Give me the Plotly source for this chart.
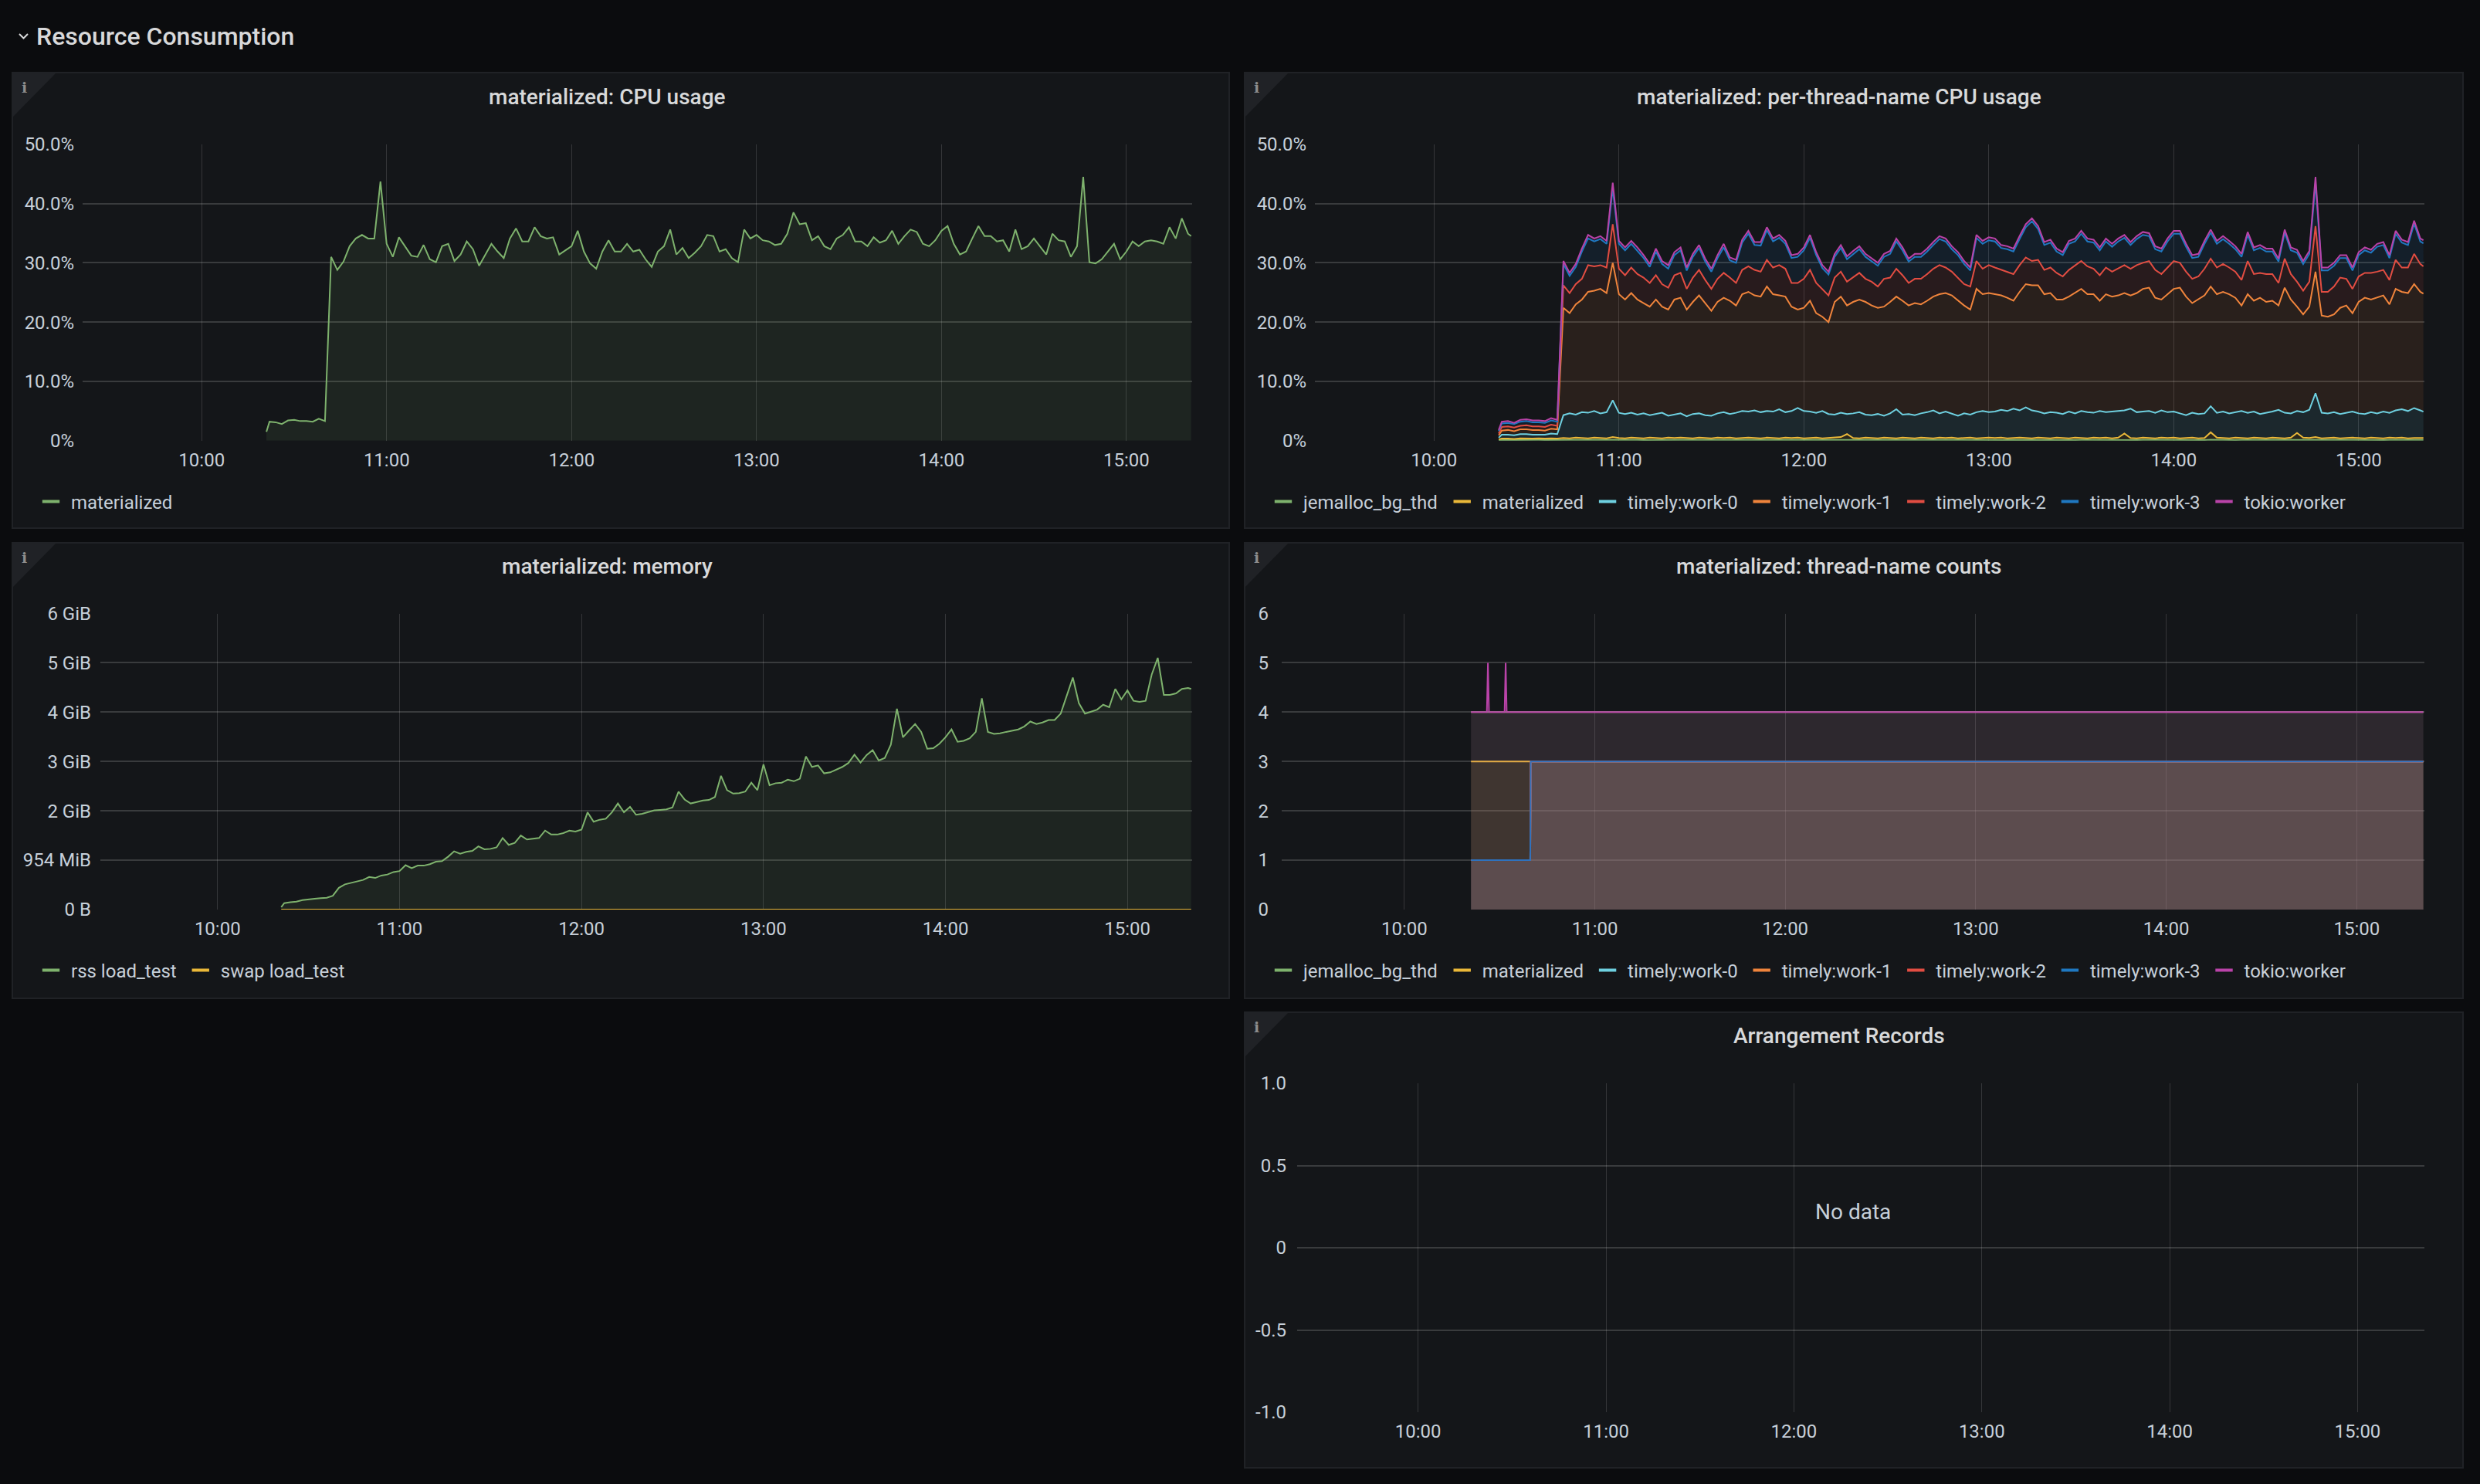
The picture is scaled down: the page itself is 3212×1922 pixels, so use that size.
import pandas as pd
import plotly.graph_objects as go

W, H = 3212, 1922
DAY = "2021-06-01 "

# ---------------- sample times (2-minute resolution) ----------------
sample_times = ([DAY + "10:21:00"]
                + [t.strftime("%Y-%m-%d %H:%M:%S")
                   for t in pd.date_range(DAY + "10:22", DAY + "15:20", freq="2min")]
                + [DAY + "15:21:00"])

# ---------------- panel 1: materialized CPU usage (%) ----------------
cpu_total = [1.5,
    3.2, 3.1, 2.8, 3.4, 3.5, 3.3, 3.3, 3.2, 3.7, 3.3,
    31.0, 28.8, 30.2, 32.8, 34.1, 34.7, 34.1, 34.1, 43.7, 33.2,
    31.0, 34.3, 32.8, 31.2, 31.0, 33.0, 30.6, 30.1, 32.8, 33.2,
    30.3, 31.4, 33.6, 32.3, 29.5, 31.4, 33.2, 31.9, 30.8, 34.1,
    35.8, 33.6, 33.6, 36.0, 34.5, 34.1, 34.3, 31.4, 32.1, 32.8,
    35.4, 31.9, 29.9, 29.0, 31.9, 33.8, 31.9, 31.9, 33.2, 31.9,
    32.2, 30.6, 29.3, 31.9, 32.8, 35.6, 31.4, 32.5, 30.8, 31.7,
    32.8, 34.7, 34.5, 31.9, 32.3, 30.8, 30.1, 35.6, 34.1, 34.7,
    33.8, 33.6, 33.0, 33.2, 34.9, 38.5, 36.5, 36.7, 33.8, 34.5,
    32.8, 32.3, 34.1, 34.7, 36.0, 33.6, 33.6, 32.8, 34.3, 33.4,
    33.8, 35.4, 33.2, 34.5, 35.6, 35.2, 33.2, 32.8, 33.8, 35.4,
    36.2, 33.2, 31.4, 31.9, 34.1, 36.2, 34.5, 34.5, 33.6, 33.8,
    31.9, 35.6, 32.3, 32.8, 34.1, 32.8, 31.4, 34.9, 33.8, 33.6,
    31.0, 32.8, 44.5, 30.1, 29.9, 30.6, 31.9, 33.2, 30.6, 31.9,
    33.6, 32.8, 33.6, 33.8, 33.6, 33.2, 36.0, 34.1, 37.5, 34.9,
    34.5]

# ---------------- panel 2: per-thread CPU (%), cumulative stacked levels ----------------
thread_names = ["jemalloc_bg_thd", "materialized", "timely:work-0", "timely:work-1",
                "timely:work-2", "timely:work-3", "tokio:worker"]

stack_jemalloc = [0.05,
    0.10, 0.11, 0.10, 0.12, 0.11, 0.10, 0.11, 0.10, 0.12, 0.11,
    0.12, 0.10, 0.13, 0.11, 0.12, 0.14, 0.11, 0.10, 0.15, 0.12,
    0.11, 0.13, 0.12, 0.10, 0.12, 0.11, 0.13, 0.12, 0.10, 0.12,
    0.13, 0.11, 0.12, 0.10, 0.12, 0.13, 0.11, 0.12, 0.10, 0.12,
    0.11, 0.13, 0.12, 0.10, 0.12, 0.11, 0.13, 0.12, 0.11, 0.10,
    0.12, 0.11, 0.13, 0.12, 0.10, 0.14, 0.12, 0.11, 0.12, 0.10,
    0.12, 0.11, 0.13, 0.12, 0.10, 0.12, 0.11, 0.13, 0.12, 0.11,
    0.10, 0.12, 0.11, 0.13, 0.12, 0.10, 0.12, 0.11, 0.13, 0.12,
    0.11, 0.12, 0.10, 0.13, 0.12, 0.11, 0.12, 0.10, 0.12, 0.11,
    0.13, 0.12, 0.11, 0.10, 0.12, 0.11, 0.13, 0.12, 0.10, 0.12,
    0.11, 0.14, 0.12, 0.10, 0.12, 0.11, 0.13, 0.12, 0.11, 0.10,
    0.12, 0.11, 0.13, 0.12, 0.10, 0.15, 0.12, 0.11, 0.12, 0.10,
    0.12, 0.11, 0.13, 0.12, 0.10, 0.12, 0.11, 0.13, 0.12, 0.14,
    0.11, 0.12, 0.14, 0.13, 0.12, 0.11, 0.12, 0.10, 0.12, 0.11,
    0.13, 0.12, 0.11, 0.10, 0.12, 0.11, 0.13, 0.12, 0.11, 0.12,
    0.12]

stack_materialized = [0.20,
    0.35, 0.35, 0.30, 0.40, 0.35, 0.35, 0.40, 0.35, 0.40, 0.35,
    0.45, 0.40, 0.50, 0.45, 0.40, 0.50, 0.45, 0.40, 0.60, 0.45,
    0.40, 0.50, 0.45, 0.40, 0.50, 0.45, 0.40, 0.50, 0.45, 0.50,
    0.45, 0.40, 0.50, 0.45, 0.40, 0.50, 0.45, 0.50, 0.40, 0.45,
    0.50, 0.45, 0.40, 0.50, 0.45, 0.40, 0.50, 0.45, 0.50, 0.40,
    0.45, 0.50, 0.40, 0.45, 0.50, 0.60, 1.10, 0.45, 0.40, 0.50,
    0.45, 0.40, 0.50, 0.45, 0.40, 0.50, 0.45, 0.40, 0.50, 0.45,
    0.40, 0.50, 0.45, 0.50, 0.40, 0.45, 0.50, 0.40, 0.45, 0.50,
    0.45, 0.50, 0.40, 0.45, 0.50, 0.45, 0.40, 0.50, 0.45, 0.40,
    0.50, 0.45, 0.40, 0.50, 0.45, 0.40, 0.50, 0.45, 0.50, 0.40,
    0.50, 1.20, 0.45, 0.40, 0.50, 0.45, 0.40, 0.50, 0.45, 0.50,
    0.40, 0.45, 0.50, 0.40, 0.45, 1.40, 0.50, 0.45, 0.40, 0.50,
    0.45, 0.40, 0.50, 0.45, 0.40, 0.50, 0.45, 0.40, 0.50, 1.30,
    0.50, 0.45, 0.60, 0.40, 0.45, 0.50, 0.40, 0.45, 0.50, 0.45,
    0.40, 0.50, 0.45, 0.40, 0.50, 0.45, 0.50, 0.40, 0.45, 0.50,
    0.45]

stack_work0 = [0.5,
    1.0, 1.0, 0.9, 1.1, 1.1, 1.0, 1.0, 1.0, 1.2, 1.1,
    4.3, 4.6, 4.4, 4.8, 4.7, 5.0, 4.6, 4.8, 6.8, 4.7,
    4.5, 4.7, 4.4, 4.6, 4.3, 4.5, 4.7, 4.2, 4.4, 4.6,
    4.1, 4.5, 4.6, 4.3, 4.2, 4.6, 4.8, 4.5, 4.7, 5.0,
    4.9, 5.1, 4.8, 5.0, 4.9, 5.3, 4.8, 5.0, 5.5, 5.0,
    4.9, 4.7, 5.0, 4.5, 4.4, 4.7, 4.5, 4.6, 4.8, 4.4,
    4.3, 4.5, 4.2, 4.6, 5.3, 4.4, 4.5, 4.3, 4.6, 4.8,
    5.1, 4.6, 4.9, 4.5, 4.2, 4.6, 4.4, 4.8, 5.0, 4.8,
    4.9, 5.2, 5.0, 5.4, 5.1, 5.6, 5.1, 4.9, 4.6, 4.8,
    4.7, 4.5, 4.9, 4.6, 5.0, 4.8, 4.7, 5.0, 4.8, 4.9,
    5.0, 5.1, 5.4, 4.8, 4.9, 5.0, 4.7, 5.1, 4.8, 4.9,
    4.6, 4.3, 4.7, 4.5, 4.6, 5.8, 4.7, 4.9, 4.6, 4.8,
    5.0, 4.7, 4.9, 4.5, 4.7, 4.9, 5.2, 4.7, 4.6, 5.0,
    4.8, 5.2, 8.0, 4.7, 4.6, 4.8, 4.5, 4.7, 4.9, 4.6,
    4.5, 4.8, 4.6, 4.9, 4.7, 5.1, 5.3, 5.0, 5.5, 5.1,
    4.9]

stack_work1 = [0.9,
    1.7, 1.8, 1.6, 1.9, 1.9, 1.8, 1.8, 1.7, 2.0, 1.9,
    22.4, 21.5, 23.0, 23.8, 25.1, 25.3, 25.6, 24.9, 30.0, 24.7,
    23.8, 24.9, 23.8, 23.2, 22.6, 23.8, 22.6, 22.1, 23.8, 24.1,
    22.1, 23.4, 24.5, 23.2, 21.9, 23.4, 24.1, 23.6, 22.8, 24.7,
    25.1, 24.5, 24.3, 26.0, 24.7, 24.5, 24.3, 22.6, 22.1, 22.4,
    23.6, 21.5, 20.9, 20.0, 23.4, 24.3, 22.8, 23.4, 23.8, 23.4,
    22.8, 22.4, 22.6, 23.4, 24.3, 23.6, 22.8, 23.2, 23.0, 23.6,
    24.3, 24.7, 24.9, 24.5, 23.6, 22.8, 22.1, 25.6, 24.7, 24.9,
    24.7, 24.5, 24.1, 23.6, 25.1, 26.4, 26.2, 26.2, 24.7, 24.9,
    23.8, 23.8, 24.3, 24.9, 25.6, 24.7, 24.7, 23.6, 24.7, 24.3,
    24.5, 24.9, 24.5, 24.9, 25.6, 25.8, 24.1, 23.8, 24.7, 25.6,
    25.8, 24.3, 23.2, 23.8, 24.5, 26.0, 24.7, 25.1, 24.7, 24.1,
    22.8, 24.7, 23.6, 24.1, 23.4, 23.6, 22.8, 25.8, 23.8, 22.6,
    21.3, 22.6, 28.5, 21.1, 20.9, 21.3, 22.4, 22.8, 21.5, 23.4,
    24.1, 23.8, 24.1, 24.5, 23.0, 25.6, 25.1, 24.9, 26.4, 25.1,
    24.8]

stack_work2 = [1.2,
    2.3, 2.4, 2.2, 2.5, 2.6, 2.4, 2.4, 2.3, 2.7, 2.5,
    26.2, 24.9, 26.4, 27.3, 29.6, 29.4, 29.6, 29.2, 36.5, 29.0,
    27.9, 29.2, 28.1, 27.5, 26.6, 27.9, 26.4, 25.8, 27.9, 28.3,
    25.6, 27.5, 28.8, 27.1, 25.6, 27.3, 28.3, 27.5, 26.6, 28.8,
    29.4, 28.8, 28.5, 30.5, 29.2, 29.6, 29.0, 26.6, 26.6, 27.3,
    28.8, 26.6, 25.6, 24.5, 27.5, 28.5, 26.8, 27.5, 28.3, 27.3,
    26.8, 26.0, 27.3, 27.5, 29.0, 27.9, 26.6, 27.3, 27.3, 28.1,
    29.0, 29.6, 29.2, 28.5, 27.5, 26.4, 26.0, 30.3, 29.0, 29.6,
    29.2, 28.8, 28.5, 28.1, 29.6, 30.9, 30.3, 30.5, 28.8, 29.2,
    28.3, 27.7, 28.8, 29.6, 30.3, 29.4, 29.0, 27.9, 29.2, 28.5,
    29.0, 29.6, 29.0, 29.6, 30.0, 30.3, 28.8, 28.1, 29.2, 30.3,
    30.0, 28.5, 27.3, 27.7, 29.0, 30.7, 29.2, 29.8, 29.2, 28.5,
    27.1, 30.3, 28.1, 28.3, 28.1, 28.1, 26.6, 30.7, 28.1, 26.8,
    25.3, 26.8, 36.2, 25.1, 25.1, 26.0, 27.5, 27.3, 25.6, 27.7,
    28.3, 28.3, 28.5, 28.8, 27.1, 30.5, 29.2, 29.2, 31.5, 29.8,
    29.4]

stack_work3 = [1.6,
    2.9, 3.0, 2.8, 3.2, 3.3, 3.1, 3.1, 3.0, 3.4, 3.2,
    29.8, 27.8, 29.3, 31.9, 34.1, 33.6, 34.0, 33.2, 42.5, 33.2,
    32.1, 33.2, 32.0, 30.8, 29.3, 31.9, 29.8, 29.0, 31.3, 32.1,
    28.7, 31.0, 32.5, 30.2, 28.5, 30.8, 32.6, 30.4, 30.0, 33.4,
    34.9, 33.0, 32.9, 35.5, 33.6, 34.2, 33.2, 30.8, 31.0, 32.1,
    34.2, 31.3, 29.1, 28.0, 31.0, 32.5, 30.6, 31.5, 32.3, 31.0,
    30.2, 29.5, 31.0, 31.5, 33.6, 32.1, 30.2, 31.0, 31.0, 31.9,
    33.0, 34.0, 33.6, 32.3, 31.3, 29.8, 28.7, 34.2, 33.2, 33.8,
    33.6, 32.5, 32.3, 31.9, 34.0, 36.0, 37.0, 35.7, 33.0, 33.4,
    31.9, 31.3, 33.2, 33.6, 34.9, 33.6, 33.4, 32.1, 33.6, 32.7,
    33.6, 34.2, 33.0, 34.0, 34.7, 34.5, 32.3, 31.9, 33.6, 34.9,
    34.9, 32.7, 30.8, 31.0, 33.2, 35.1, 33.2, 34.0, 33.2, 32.3,
    31.0, 34.7, 32.1, 32.5, 31.9, 31.9, 30.2, 35.1, 32.1, 31.7,
    29.8, 31.5, 43.5, 28.7, 28.7, 29.5, 30.8, 30.8, 28.7, 31.3,
    32.1, 31.7, 32.7, 33.0, 30.8, 34.9, 33.4, 33.0, 36.6, 33.6,
    33.3]

stack_tokio = [1.8,
    3.2, 3.3, 3.0, 3.5, 3.6, 3.4, 3.4, 3.3, 3.8, 3.5,
    30.3, 28.3, 29.8, 32.4, 34.7, 34.1, 34.5, 33.7, 43.5, 33.7,
    32.6, 33.7, 32.6, 31.3, 29.8, 32.4, 30.3, 29.6, 31.8, 32.6,
    29.2, 31.5, 33.0, 30.7, 29.0, 31.3, 33.2, 30.9, 30.5, 33.9,
    35.4, 33.5, 33.5, 36.0, 34.1, 34.7, 33.7, 31.3, 31.5, 32.6,
    34.7, 31.8, 29.6, 28.5, 31.5, 33.0, 31.1, 32.0, 32.8, 31.5,
    30.7, 30.0, 31.5, 32.0, 34.1, 32.6, 30.7, 31.5, 31.5, 32.4,
    33.5, 34.5, 34.1, 32.8, 31.8, 30.3, 29.2, 34.7, 33.7, 34.3,
    34.1, 33.0, 32.8, 32.4, 34.5, 36.5, 37.5, 36.2, 33.5, 33.9,
    32.4, 31.8, 33.7, 34.1, 35.4, 34.1, 33.9, 32.6, 34.1, 33.2,
    34.1, 34.7, 33.5, 34.5, 35.2, 35.0, 32.8, 32.4, 34.1, 35.4,
    35.4, 33.2, 31.3, 31.5, 33.7, 35.6, 33.7, 34.5, 33.7, 32.8,
    31.5, 35.2, 32.6, 33.0, 32.4, 32.4, 30.7, 35.6, 32.6, 32.2,
    30.3, 32.0, 44.5, 29.2, 29.2, 30.0, 31.3, 31.3, 29.2, 31.8,
    32.6, 32.2, 33.2, 33.5, 31.3, 35.4, 33.9, 33.5, 37.1, 34.1,
    33.8]

# ---------------- panel 3: memory (GB, 1e9 bytes) ----------------
rss_gb = [0.05,
    0.13, 0.15, 0.16, 0.19, 0.21, 0.22, 0.23, 0.24, 0.28, 0.44,
    0.51, 0.54, 0.57, 0.60, 0.66, 0.64, 0.69, 0.71, 0.76, 0.78,
    0.90, 0.84, 0.89, 0.89, 0.92, 0.97, 0.98, 1.07, 1.18, 1.13,
    1.17, 1.19, 1.28, 1.22, 1.23, 1.26, 1.45, 1.31, 1.35, 1.50,
    1.42, 1.43, 1.45, 1.60, 1.52, 1.52, 1.55, 1.60, 1.58, 1.62,
    1.97, 1.78, 1.82, 1.84, 1.97, 2.15, 1.97, 2.08, 1.92, 1.94,
    1.98, 2.01, 2.02, 2.03, 2.07, 2.39, 2.23, 2.15, 2.18, 2.21,
    2.22, 2.28, 2.71, 2.42, 2.35, 2.36, 2.39, 2.57, 2.42, 2.94,
    2.52, 2.56, 2.57, 2.63, 2.60, 2.65, 3.10, 2.89, 2.92, 2.76,
    2.78, 2.84, 2.89, 2.97, 3.14, 2.98, 3.13, 3.23, 3.02, 3.07,
    3.34, 4.07, 3.49, 3.63, 3.76, 3.60, 3.26, 3.27, 3.36, 3.49,
    3.65, 3.40, 3.42, 3.47, 3.60, 4.28, 3.60, 3.56, 3.57, 3.60,
    3.63, 3.65, 3.71, 3.81, 3.76, 3.79, 3.84, 3.84, 3.97, 4.34,
    4.70, 4.18, 3.97, 4.01, 4.05, 4.15, 4.10, 4.47, 4.26, 4.44,
    4.23, 4.21, 4.23, 4.76, 5.10, 4.35, 4.35, 4.38, 4.47, 4.49,
    4.47]
swap_gb = [0.0] * len(sample_times)
mem_tickvals = [0, 1, 2, 3, 4, 5, 6]
mem_ticktext = ["0 B", "954 MiB", "2 GiB", "3 GiB", "4 GiB", "5 GiB", "6 GiB"]

# ---------------- panel 4: thread-name counts (step series) ----------------
cnt_full_t = [DAY + "10:21:00", DAY + "15:21:00"]
cnt_jemalloc = [4, 4]
cnt_materialized = [3, 3]
cnt_timely_t = [DAY + "10:21:00", DAY + "10:39:40", DAY + "10:39:50", DAY + "15:21:00"]
cnt_timely = [1, 1, 3, 3]
cnt_tokio_t = [DAY + "10:21:00", DAY + "10:26:00", DAY + "10:26:20", DAY + "10:26:40",
               DAY + "10:31:35", DAY + "10:31:55", DAY + "10:32:15", DAY + "15:21:00"]
cnt_tokio = [4, 4, 5, 4, 4, 5, 4, 4]

pct_tickvals = [0, 10, 20, 30, 40, 50]
pct_ticktext = ["0%", "10.0%", "20.0%", "30.0%", "40.0%", "50.0%"]
arr_tickvals = [-1, -0.5, 0, 0.5, 1]
arr_ticktext = ["-1.0", "-0.5", "0", "0.5", "1.0"]

for arr in [cpu_total, stack_jemalloc, stack_materialized, stack_work0, stack_work1,
            stack_work2, stack_work3, stack_tokio, rss_gb]:
    assert len(arr) == len(sample_times), len(arr)

# ---------------- styling ----------------
COLORS = ["#7EB26D", "#EAB839", "#6ED0E0", "#EF843C", "#E24D42", "#1F78C1", "#BA43A9"]
PAGE_BG = "#0b0c0e"
PANEL_BG = "#141619"
PANEL_BORDER = "#202226"
TICK = "#c7d0d9"
TITLE = "#d8d9da"
HGRID = "rgba(255,255,255,0.16)"
VGRID = "rgba(255,255,255,0.14)"
FONT = "Roboto"


def rgba(hexc, a):
    h = hexc.lstrip("#")
    return "rgba(%d,%d,%d,%s)" % (int(h[0:2], 16), int(h[2:4], 16), int(h[4:6], 16), a)


def px(x):
    return x / W


def py(y):
    return 1 - y / H


fig = go.Figure()

# panel 1
fig.add_trace(go.Scatter(x=sample_times, y=cpu_total, mode="lines", name="materialized",
                         line=dict(color=COLORS[0], width=2), fill="tozeroy",
                         fillcolor=rgba(COLORS[0], 0.1), xaxis="x", yaxis="y",
                         showlegend=False, legendgroup="p1_0"))

# panel 2
stacks = [stack_jemalloc, stack_materialized, stack_work0, stack_work1,
          stack_work2, stack_work3, stack_tokio]
for i, (nm, arr) in enumerate(zip(thread_names, stacks)):
    fig.add_trace(go.Scatter(x=sample_times, y=arr, mode="lines", name=nm,
                             line=dict(color=COLORS[i], width=2),
                             fill="tozeroy" if i == 0 else "tonexty",
                             fillcolor=rgba(COLORS[i], 0.1), xaxis="x2", yaxis="y2",
                             showlegend=False, legendgroup="p2_%d" % i))

# panel 3
mem_names = ["rss load_test", "swap load_test"]
for i, arr in enumerate([rss_gb, swap_gb]):
    fig.add_trace(go.Scatter(x=sample_times, y=arr, mode="lines", name=mem_names[i],
                             line=dict(color=COLORS[i], width=2), fill="tozeroy",
                             fillcolor=rgba(COLORS[i], 0.1), xaxis="x3", yaxis="y3",
                             showlegend=False, legendgroup="p3_%d" % i))

# panel 4
cnt_series = [(cnt_full_t, cnt_jemalloc), (cnt_full_t, cnt_materialized),
              (cnt_timely_t, cnt_timely), (cnt_timely_t, cnt_timely),
              (cnt_timely_t, cnt_timely), (cnt_timely_t, cnt_timely),
              (cnt_tokio_t, cnt_tokio)]
for i, (nm, (tt, vv)) in enumerate(zip(thread_names, cnt_series)):
    fig.add_trace(go.Scatter(x=tt, y=vv, mode="lines", name=nm,
                             line=dict(color=COLORS[i], width=2, shape="linear"),
                             fill="tozeroy", fillcolor=rgba(COLORS[i], 0.1),
                             xaxis="x4", yaxis="y4", showlegend=False,
                             legendgroup="p4_%d" % i))

# panel 5: no data, invisible placeholder
fig.add_trace(go.Scatter(x=[None], y=[None], mode="lines", xaxis="x5", yaxis="y5",
                         showlegend=False, hoverinfo="skip"))


# legend entries (Grafana-style short bars)
def legend_entry(name, color, axis_suffix, legend_id, group):
    fig.add_trace(go.Scatter(x=[None], y=[None], mode="markers", name=name,
                             marker=dict(symbol="line-ew", size=16, color=color,
                                         line=dict(color=color, width=4)),
                             xaxis="x" + axis_suffix, yaxis="y" + axis_suffix,
                             legend=legend_id, legendgroup=group, showlegend=True))


legend_entry("materialized", COLORS[0], "", "legend", "p1_0")
for i, nm in enumerate(thread_names):
    legend_entry(nm, COLORS[i], "2", "legend2", "p2_%d" % i)
for i, nm in enumerate(mem_names):
    legend_entry(nm, COLORS[i], "3", "legend3", "p3_%d" % i)
for i, nm in enumerate(thread_names):
    legend_entry(nm, COLORS[i], "4", "legend4", "p4_%d" % i)

# ---------------- layout ----------------
x_range = [DAY + "09:21:22", DAY + "15:21:20"]


def xax(x0, x1):
    return dict(domain=[px(x0), px(x1)], type="date", range=x_range,
                tickformat="%H:%M", dtick=3600000, tick0=DAY + "10:00",
                showgrid=True, gridcolor=VGRID, gridwidth=1, zeroline=False,
                showline=False, ticks="", ticklabelstandoff=8, automargin=False,
                tickfont=dict(family=FONT, size=24, color=TICK), fixedrange=True)


def yax(y_top, y_bot, rng, tv, tt, standoff=10):
    return dict(domain=[py(y_bot), py(y_top)], range=rng, tickvals=tv, ticktext=tt,
                showgrid=True, gridcolor=HGRID, gridwidth=2, zeroline=False,
                showline=False, ticks="", ticklabelstandoff=standoff, automargin=False,
                tickfont=dict(family=FONT, size=24, color=TICK), fixedrange=True)


layout_axes = {}
specs = [
    ("", 107, 1544, 186.8, 570.7, [0, 50], pct_tickvals, pct_ticktext, 10),
    ("2", 1703, 3140, 186.8, 570.7, [0, 50], pct_tickvals, pct_ticktext, 10),
    ("3", 130, 1544, 794.5, 1178, [0, 6], mem_tickvals, mem_ticktext, 11),
    ("4", 1660, 3140, 794.5, 1178, [0, 6], mem_tickvals, [str(v) for v in mem_tickvals], 16),
    ("5", 1680, 3140, 1403, 1829, [-1, 1], arr_tickvals, arr_ticktext, 13),
]
for suf, x0, x1, yt, yb, rng, tv, tt, so in specs:
    xa = xax(x0, x1)
    xa["anchor"] = "y" + suf
    ya = yax(yt, yb, rng, tv, tt, so)
    ya["anchor"] = "x" + suf
    layout_axes["xaxis" + suf] = xa
    layout_axes["yaxis" + suf] = ya

panels = [
    (16, 94, 1592, 684, "materialized: CPU usage", 786, 125),
    (1612, 94, 3190, 684, "materialized: per-thread-name CPU usage", 2382, 125),
    (16, 703, 1592, 1293, "materialized: memory", 786, 733),
    (1612, 703, 3190, 1293, "materialized: thread-name counts", 2382, 733),
    (1612, 1311, 3190, 1901, "Arrangement Records", 2382, 1341),
]

shapes = []
annotations = []
for (x0, y0, x1, y1, title, tx, ty) in panels:
    shapes.append(dict(type="rect", xref="paper", yref="paper", x0=px(x0), x1=px(x1),
                       y0=py(y1), y1=py(y0), fillcolor=PANEL_BG,
                       line=dict(color=PANEL_BORDER, width=2), layer="below"))
    shapes.append(dict(type="path", xref="paper", yref="paper",
                       path="M %f,%f L %f,%f L %f,%f Z" % (px(x0 + 1), py(y0 + 1),
                                                          px(x0 + 56), py(y0 + 1),
                                                          px(x0 + 1), py(y0 + 57)),
                       fillcolor="#202226", line=dict(width=0), layer="below"))
    annotations.append(dict(text="i", xref="paper", yref="paper", x=px(x0 + 15),
                            y=py(y0 + 19), showarrow=False, xanchor="center",
                            yanchor="middle",
                            font=dict(family="DejaVu Serif", size=19, color="#8e8e8e",
                                      weight="bold")))
    annotations.append(dict(text=title, xref="paper", yref="paper", x=px(tx), y=py(ty),
                            showarrow=False, xanchor="center", yanchor="middle",
                            font=dict(family=FONT, size=28, color=TITLE, weight=500)))

# row header
annotations.append(dict(text="Resource Consumption", xref="paper", yref="paper",
                        x=px(45), y=py(47), showarrow=False, xanchor="left",
                        yanchor="middle",
                        font=dict(family=FONT, size=32, color=TITLE, weight=500)))
shapes.append(dict(type="path", xref="paper", yref="paper",
                   path="M %f,%f L %f,%f L %f,%f" % (px(25), py(44), px(30.5), py(49.5),
                                                     px(36), py(44)),
                   line=dict(color=TITLE, width=2)))
annotations.append(dict(text="No data", xref="paper", yref="paper", x=px(2400),
                        y=py(1569), showarrow=False, xanchor="center", yanchor="middle",
                        font=dict(family=FONT, size=28, color=TICK)))


def legend_box(x, y):
    return dict(orientation="h", x=px(x), y=py(y), xanchor="left", yanchor="middle",
                bgcolor="rgba(0,0,0,0)", borderwidth=0, itemsizing="trace",
                itemwidth=42,
                font=dict(family=FONT, size=24, color=TICK), traceorder="normal")


fig.update_layout(
    width=W, height=H, autosize=False,
    margin=dict(l=0, r=0, t=0, b=0, pad=0, autoexpand=False),
    paper_bgcolor=PAGE_BG, plot_bgcolor="rgba(0,0,0,0)",
    font=dict(family=FONT, color=TICK),
    showlegend=True,
    legend=legend_box(40, 650),
    legend2=legend_box(1636, 650),
    legend3=legend_box(40, 1257),
    legend4=legend_box(1636, 1257),
    shapes=shapes, annotations=annotations,
    hovermode="x",
    **layout_axes,
)

fig.write_html("out.html")
